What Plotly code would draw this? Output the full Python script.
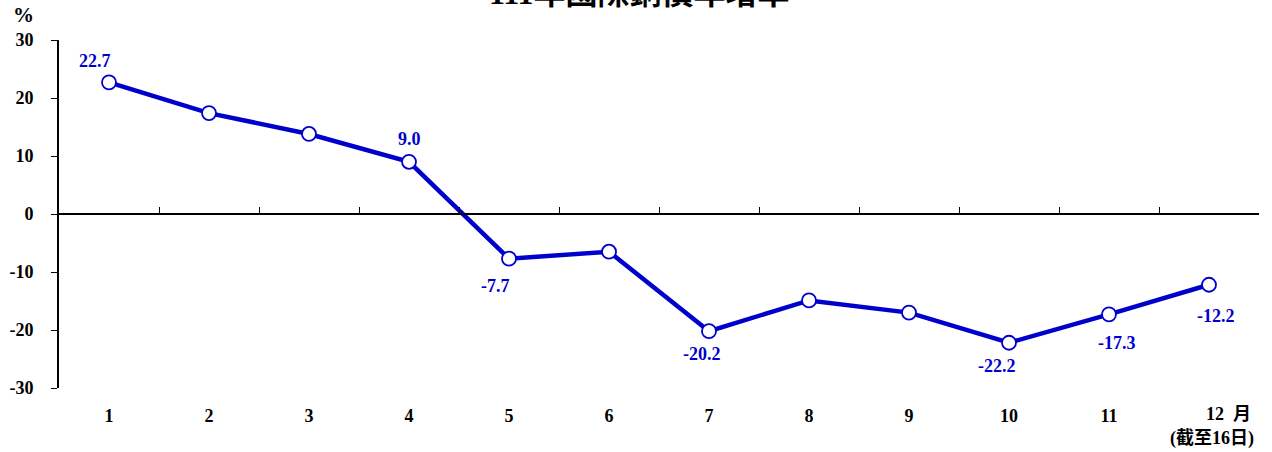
import plotly.graph_objects as go

months = [1, 2, 3, 4, 5, 6, 7, 8, 9, 10, 11, 12]
month_labels = ["1", "2", "3", "4", "5", "6", "7", "8", "9", "10", "11", ""]
growth = [22.7, 17.4, 13.8, 9.0, -7.7, -6.5, -20.2, -14.9, -17.0, -22.2, -17.3, -12.2]
label_months = [1, 4, 5, 7, 10, 11, 12]
label_shifts = {1: (-14, 21), 4: (0, 23), 5: (-14, -27), 7: (-7, -23),
                10: (-12, -23), 11: (8, -29), 12: (7, -31)}
y_ticks = [-30, -20, -10, 0, 10, 20, 30]
y_ticktext = ["-30", "-20", "-10", "0", "10", "20", "30"]
title_text = "111年國際銅價年增率"

BLUE = "#0000CC"
SERIF = "Liberation Serif, Times New Roman, Noto Sans CJK TC, serif"

fig = go.Figure()
fig.add_trace(go.Scatter(x=[1], y=[0], xaxis="x2", mode="markers",
                         marker=dict(opacity=0), showlegend=False, hoverinfo="skip"))
fig.add_trace(go.Scatter(
    x=months, y=growth, mode="lines+markers",
    line=dict(color=BLUE, width=4.5),
    marker=dict(size=14, color="white", line=dict(color=BLUE, width=1.8)),
    showlegend=False, hoverinfo="skip",
))

annotations = []
for m in label_months:
    v = growth[m - 1]
    dx, dy = label_shifts[m]
    annotations.append(dict(
        x=m, y=v, xref="x", yref="y", text=f"{v:.1f}", showarrow=False,
        xshift=dx, yshift=dy,
        font=dict(family=SERIF, size=18, color=BLUE, weight="bold"),
    ))

annotations += [
    dict(x=0.5, y=1, xref="paper", yref="paper", yanchor="middle", yshift=47,
         xshift=-20, text=title_text, showarrow=False,
         font=dict(family=SERIF, size=32, color="black", weight="bold")),
    dict(x=0, y=1, xref="paper", yref="paper", xanchor="center", yanchor="middle",
         xshift=-36, yshift=25, text="%", showarrow=False,
         font=dict(family=SERIF, size=21, color="black", weight="bold")),
    dict(x=12, y=0, xref="x", yref="paper", xanchor="center", yanchor="middle",
         xshift=19, yshift=-26, text="12 &nbsp;月", showarrow=False,
         font=dict(family=SERIF, size=18, color="black", weight="bold")),
    dict(x=12, y=0, xref="x", yref="paper", xanchor="center", yanchor="middle",
         xshift=3, yshift=-50, text="(截至16日)", showarrow=False,
         font=dict(family=SERIF, size=18, color="black", weight="bold")),
]

fig.update_layout(
    width=1272, height=452,
    margin=dict(l=59, r=13, t=40, b=64),
    paper_bgcolor="white", plot_bgcolor="white",
    font=dict(family=SERIF, size=17, color="black", weight="bold"),
    xaxis=dict(
        range=[0.5, 12.5], tickmode="array", tickvals=months, ticktext=month_labels,
        showgrid=False, zeroline=False, showline=False, ticks="",
        ticklabelstandoff=15, automargin=False,
        tickfont=dict(family=SERIF, size=18, color="black", weight="bold"),
    ),
    xaxis2=dict(
        range=[0.5, 12.5], overlaying="x", anchor="free", position=0.5,
        side="bottom", automargin=False,
        tickmode="array", tickvals=[m + 0.5 for m in months[:-1]],
        ticks="inside", ticklen=6, tickwidth=1.3, tickcolor="black",
        showticklabels=False, showline=True, linecolor="black", linewidth=2,
        showgrid=False, zeroline=False,
    ),
    yaxis=dict(
        range=[-30, 30], tickmode="array", tickvals=y_ticks, ticktext=y_ticktext,
        showgrid=False, zeroline=False, showline=True, linecolor="black", linewidth=2,
        ticks="outside", ticklen=6, tickwidth=1.3, tickcolor="black",
        ticklabelstandoff=14, automargin=False,
        tickfont=dict(family=SERIF, size=18, color="black", weight="bold"),
    ),
    annotations=annotations,
)
fig.write_html("out.html", config={"displayModeBar": False},
               post_script="document.body.style.margin='0';document.body.style.overflow='hidden';")
